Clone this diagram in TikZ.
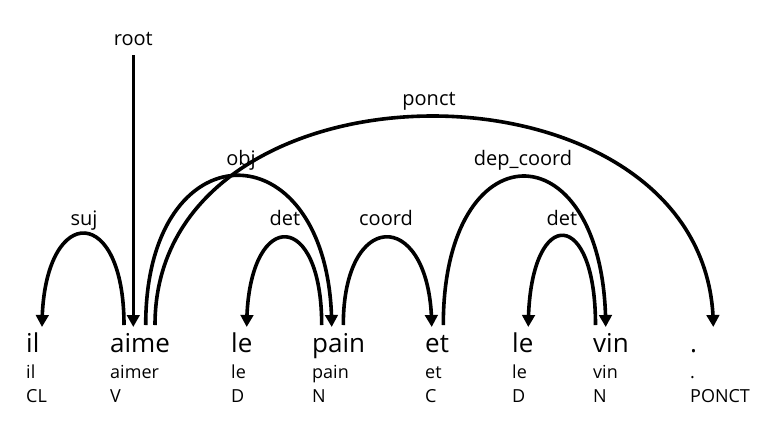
\documentclass[tikz,border=0pt]{standalone}
\usepackage{fontspec}
\setmainfont{Open Sans}
\usetikzlibrary{arrows.meta,bending}
\begin{document}
\begin{tikzpicture}[x=1pt,y=-1pt,
  word/.style={anchor=base west,inner sep=0pt,font=\fontsize{26}{28}\selectfont},
  small/.style={anchor=base west,inner sep=0pt,font=\fontsize{18}{20}\selectfont},
  lab/.style={anchor=base,inner sep=0pt,font=\fontsize{20}{22}\selectfont},
  dep/.style={line width=3.6pt,-{Triangle[width=12.5pt,length=12pt,flex]}},
  line cap=butt]
\useasboundingbox (0,0) rectangle (760,432);
% words
\node[word] (w1) at (26,352) {il};
\node[word] (w2) at (110,352) {aime};
\node[word] (w3) at (231,352) {le};
\node[word] (w4) at (312,352) {pain};
\node[word] (w5) at (425,352) {et};
\node[word] (w6) at (512,352) {le};
\node[word] (w7) at (593,352) {vin};
\node[word] (w8) at (690,352) {.};
\node[small] (l1) at (26,378) {il};
\node[small] (l2) at (110,378) {aimer};
\node[small] (l3) at (231,378) {le};
\node[small] (l4) at (312,378) {pain};
\node[small] (l5) at (425,378) {et};
\node[small] (l6) at (512,378) {le};
\node[small] (l7) at (593,378) {vin};
\node[small] (l8) at (690,378) {.};
\node[small] (p1) at (26,402) {CL};
\node[small] (p2) at (110,402) {V};
\node[small] (p3) at (231,402) {D};
\node[small] (p4) at (312,402) {N};
\node[small] (p5) at (425,402) {C};
\node[small] (p6) at (512,402) {D};
\node[small] (p7) at (593,402) {N};
\node[small] (p8) at (690,402) {PONCT};
% endpoints
\coordinate (ilin) at (42,327);
\coordinate (aimesuj) at (124,325);
\coordinate (aimeroot) at (133.3,327);
\coordinate (aimeobj) at (145.7,325);
\coordinate (aimeponct) at (155,325);
\coordinate (lein) at (246.7,327);
\coordinate (paindet) at (321.7,325);
\coordinate (painin) at (331.7,327);
\coordinate (paincoord) at (343.3,325);
\coordinate (etin) at (431.7,327);
\coordinate (etdep) at (443.3,325);
\coordinate (lebin) at (528.3,327);
\coordinate (vindet) at (595.5,325);
\coordinate (vinin) at (605.7,327);
\coordinate (ptin) at (713.3,327);
\coordinate (roottop) at (133.3,55);
% labels
\node[lab] (rootl) at (133.3,45) {root};
\node[lab] (sujl) at (84,225) {suj};
\node[lab] (det1l) at (285,225) {det};
\node[lab] (coordl) at (386,225) {coord};
\node[lab] (det2l) at (562,225) {det};
\node[lab] (objl) at (241,165) {obj};
\node[lab] (depl) at (523,165) {dep\_coord};
\node[lab] (ponctl) at (429,105) {ponct};
% arcs
\draw[dep] (roottop) -- (aimeroot);
\draw[dep] (aimesuj) .. controls +(0,-124) and +(0,-124) .. (ilin);
\draw[dep] (paindet) .. controls +(0,-119) and +(0,-119) .. (lein);
\draw[dep] (paincoord) .. controls +(0,-119) and +(0,-119) .. (etin);
\draw[dep] (vindet) .. controls +(0,-121) and +(0,-121) .. (lebin);
\draw[dep] (aimeobj) .. controls +(0,-201) and +(0,-201) .. (painin);
\draw[dep] (etdep) .. controls +(0,-200) and +(0,-200) .. (vinin);
\draw[dep] (aimeponct) .. controls +(0,-280) and +(0,-280) .. (ptin);
\end{tikzpicture}
\end{document}
